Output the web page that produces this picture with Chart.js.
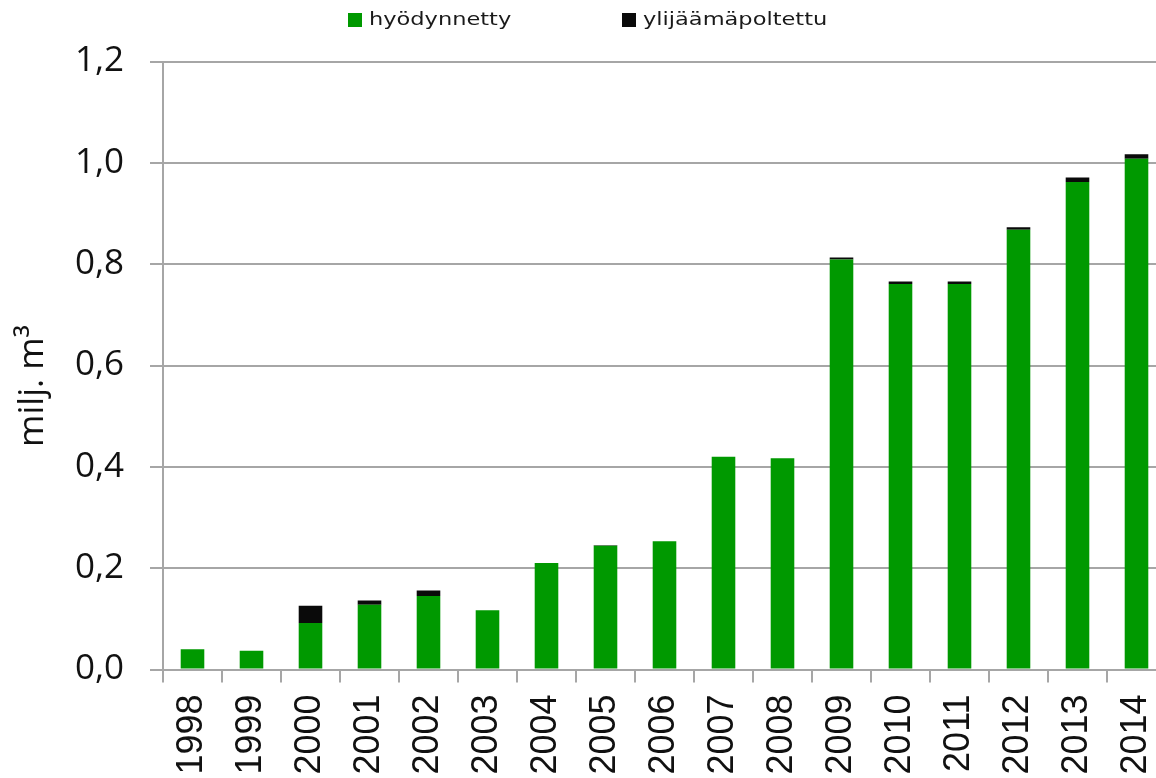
<!DOCTYPE html>
<html>
<head>
<meta charset="utf-8">
<script src="https://cdn.jsdelivr.net/npm/chart.js@4"></script>
<style>
  html, body { margin: 0; padding: 0; background: #fff; overflow: hidden; }
  #wrap { width: 1170px; height: 778px; }
</style>
</head>
<body>
<div id="wrap"><canvas id="wasteChart" width="1170" height="778"></canvas></div>
<script>
  const years = ['1998', '1999', '2000', '2001', '2002', '2003', '2004', '2005', '2006',
                 '2007', '2008', '2009', '2010', '2011', '2012', '2013', '2014'];
  // hyödynnetty (used), milj. m3
  const used = [0.040, 0.037, 0.092, 0.128, 0.145, 0.117, 0.210, 0.244, 0.253,
                0.420, 0.417, 0.809, 0.761, 0.761, 0.868, 0.962, 1.008];
  // ylijäämäpoltettu (surplus flared)
  const flared = [0, 0, 0.034, 0.008, 0.011, 0, 0, 0.001, 0,
                  0, 0, 0.004, 0.005, 0.005, 0.005, 0.009, 0.009];
  const yTicks = [0, 0.2, 0.4, 0.6, 0.8, 1.0, 1.2];
  const yTitle = 'milj. m³';

  const gridGray = '#a6a6a6';

  // legend + y title drawn by hand so they sit where the original has them
  const extras = {
    id: 'extras',
    afterDraw(chart) {
      const c = chart.ctx;
      const spots = [348, 622];
      c.save();
      c.font = '18px "DejaVu Sans"';
      c.textBaseline = 'middle';
      chart.data.datasets.forEach((ds, i) => {
        const x = spots[i];
        c.fillStyle = ds.backgroundColor;
        c.fillRect(x, 13, 14, 14);
        c.save();
        c.translate(x + 21, 20);
        c.scale(1.25, 1);   // original legend text is stretched wide
        c.fillStyle = '#1a1a1a';
        c.fillText(ds.label, 0, 0);
        c.restore();
      });
      c.restore();

      c.save();
      c.translate(33, 386);
      c.rotate(-Math.PI / 2);
      c.font = '35px "Open Sans"';
      c.textAlign = 'center';
      c.textBaseline = 'middle';
      c.fillStyle = '#111';
      c.fillText(yTitle, 0, 0);
      c.restore();
    }
  };

  const ctx = document.getElementById('wasteChart').getContext('2d');
  const wasteChart = new Chart(ctx, {
    type: 'bar',
    data: {
      labels: years,
      datasets: [{
        label: 'hyödynnetty',
        data: used,
        backgroundColor: '#009900',
        barPercentage: 0.4,
        categoryPercentage: 1
      }, {
        label: 'ylijäämäpoltettu',
        data: flared,
        backgroundColor: '#0a0a0a',
        barPercentage: 0.4,
        categoryPercentage: 1
      }]
    },
    options: {
      responsive: false,
      animation: false,
      layout: { padding: { top: 61.5, right: 4, left: 0, bottom: 0 } },
      plugins: {
        legend: { display: false },
        tooltip: { enabled: false }
      },
      scales: {
        x: {
          stacked: true,
          afterFit: (s) => { s.height = 108.5; s.paddingRight = 0; s.paddingLeft = 0; },
          grid: {
            drawOnChartArea: false,
            drawTicks: true,
            tickLength: 13,
            color: gridGray,
            lineWidth: 2,
            offset: true
          },
          border: { color: gridGray, width: 2 },
          ticks: {
            autoSkip: false,
            maxRotation: 90,
            minRotation: 90,
            padding: 12,
            color: '#111',
            font: { family: '"Liberation Sans", Arial', size: 36 }
          }
        },
        y: {
          stacked: true,
          min: 0,
          max: 1.2,
          afterFit: (s) => { s.width = 163; },
          afterBuildTicks: (s) => { s.ticks = yTicks.map(v => ({ value: v })); },
          grid: {
            color: gridGray,
            lineWidth: 2,
            tickLength: 13
          },
          border: { color: gridGray, width: 2 },
          ticks: {
            padding: 26,
            color: '#111',
            font: { family: '"Open Sans"', size: 35 },
            callback: (v) => v.toFixed(1).replace('.', ',')
          }
        }
      }
    },
    plugins: [extras]
  });
</script>
</body>
</html>
